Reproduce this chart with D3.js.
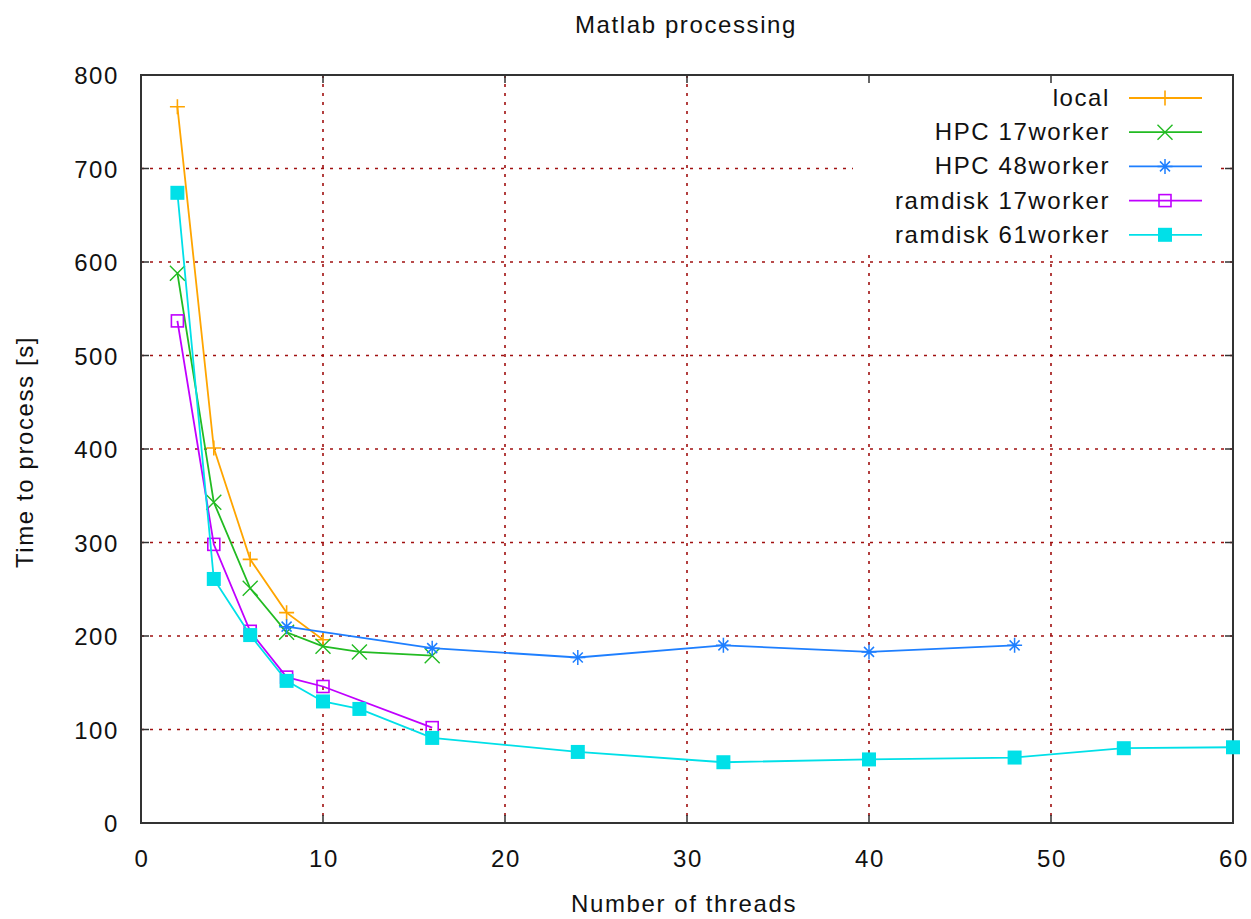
<!DOCTYPE html>
<html>
<head>
<meta charset="utf-8">
<script src="https://cdn.jsdelivr.net/npm/d3@7"></script>
<style>
  html, body { margin: 0; padding: 0; background: #fff; }
  svg text { font-family: "Liberation Sans", Arial, sans-serif; fill: #111; font-size: 24px; letter-spacing: 1.6px; }
</style>
</head>
<body>
<svg id="chart" width="1251" height="919"></svg>
<script>
// data (threads -> seconds)
const localX = [2, 4, 6, 8, 10];
const localY = [766, 401, 282, 225, 196];
const hpc17X = [2, 4, 6, 8, 10, 12, 16];
const hpc17Y = [588, 343, 251, 204, 189, 183, 179];
const hpc48X = [8, 16, 24, 32, 40, 48];
const hpc48Y = [210, 187, 177, 190, 183, 190];
const ram17X = [2, 4, 6, 8, 10, 16];
const ram17Y = [537, 298, 205, 156, 146, 102];
const ram61X = [2, 4, 6, 8, 10, 12, 16, 24, 32, 40, 48, 54, 60];
const ram61Y = [674, 261, 201, 152, 130, 122, 91, 76, 65, 68, 70, 80, 81];

const xTicks = [0, 10, 20, 30, 40, 50, 60];
const yTicks = [0, 100, 200, 300, 400, 500, 600, 700, 800];

const series = [
  { name: "local", xs: localX, ys: localY, color: "#ffa500", mark: "plus" },
  { name: "HPC 17worker", xs: hpc17X, ys: hpc17Y, color: "#22bb22", mark: "cross" },
  { name: "HPC 48worker", xs: hpc48X, ys: hpc48Y, color: "#1e7fff", mark: "star" },
  { name: "ramdisk 17worker", xs: ram17X, ys: ram17Y, color: "#c000ff", mark: "box" },
  { name: "ramdisk 61worker", xs: ram61X, ys: ram61Y, color: "#00e0e8", mark: "fbox" },
];

const L = 141, R = 1233, T = 75, B = 823;
const svg = d3.select("#chart");
const x = d3.scaleLinear().domain([0, 60]).range([L, R]);
const y = d3.scaleLinear().domain([0, 800]).range([B, T]);

// grid
const grid = svg.append("g").attr("stroke", "#a01010").attr("stroke-width", 1.6)
  .attr("stroke-dasharray", "3,6");
grid.selectAll("line.gy").data(yTicks.slice(1, -1)).join("line")
  .attr("x1", L).attr("x2", R).attr("y1", d => y(d)).attr("y2", d => y(d));
grid.selectAll("line.gx").data(xTicks.slice(1, -1)).join("line")
  .attr("y1", T).attr("y2", B).attr("x1", d => x(d)).attr("x2", d => x(d));

// legend background hides grid
svg.append("rect").attr("x", 853).attr("y", T + 1).attr("width", 365).attr("height", 176).attr("fill", "#fff");

// axes (inward ticks, mirrored)
const ax = svg.append("g").attr("stroke", "#333").attr("stroke-width", 1.5);
xTicks.forEach(t => {
  ax.append("line").attr("x1", x(t)).attr("x2", x(t)).attr("y1", B).attr("y2", B - 8);
  ax.append("line").attr("x1", x(t)).attr("x2", x(t)).attr("y1", T).attr("y2", T + 8);
});
yTicks.forEach(t => {
  ax.append("line").attr("x1", L).attr("x2", L + 8).attr("y1", y(t)).attr("y2", y(t));
  ax.append("line").attr("x1", R).attr("x2", R - 8).attr("y1", y(t)).attr("y2", y(t));
});
svg.append("rect").attr("x", L).attr("y", T).attr("width", R - L).attr("height", B - T)
  .attr("fill", "none").attr("stroke", "#333").attr("stroke-width", 2);

svg.append("g").selectAll("text").data(xTicks).join("text")
  .attr("x", d => x(d) + 1).attr("y", 867).attr("text-anchor", "middle").text(d => d);
svg.append("g").selectAll("text").data(yTicks).join("text")
  .attr("x", 119).attr("y", d => y(d) + 9).attr("text-anchor", "end").text(d => d);

svg.append("text").attr("x", 686).attr("y", 33).attr("text-anchor", "middle").text("Matlab processing");
svg.append("text").attr("x", 684).attr("y", 912).attr("text-anchor", "middle").text("Number of threads");
svg.append("text").attr("transform", "translate(33,452) rotate(-90)").attr("text-anchor", "middle")
  .text("Time to process [s]");

function marker(g, kind, color) {
  const s = 7.5;
  if (kind === "plus") {
    g.append("path").attr("d", `M${-s},0H${s}M0,${-s}V${s}`).attr("stroke", color).attr("stroke-width", 1.6).attr("fill", "none");
  } else if (kind === "cross") {
    g.append("path").attr("d", `M${-s},${-s}L${s},${s}M${-s},${s}L${s},${-s}`).attr("stroke", color).attr("stroke-width", 1.4).attr("fill", "none");
  } else if (kind === "star") {
    g.append("path").attr("d", `M${-s},0H${s}M0,${-s}V${s}M${-5},${-5}L5,5M${-5},5L5,${-5}`).attr("stroke", color).attr("stroke-width", 1.5).attr("fill", "none");
  } else if (kind === "box") {
    g.append("rect").attr("x", -6).attr("y", -6).attr("width", 12).attr("height", 12).attr("stroke", color).attr("stroke-width", 1.6).attr("fill", "none");
  } else {
    g.append("rect").attr("x", -7).attr("y", -7).attr("width", 14).attr("height", 14).attr("fill", color);
  }
}

const line = d3.line().x(d => x(d[0])).y(d => y(d[1]));
series.forEach(s => {
  const pts = s.xs.map((v, i) => [v, s.ys[i]]);
  svg.append("path").datum(pts).attr("d", line).attr("fill", "none")
    .attr("stroke", s.color).attr("stroke-width", 1.8);
  pts.forEach(p => {
    marker(svg.append("g").attr("transform", `translate(${x(p[0])},${y(p[1])})`), s.mark, s.color);
  });
});

// legend
series.forEach((s, i) => {
  const ly = 98 + i * 34.2;
  svg.append("text").attr("x", 1110).attr("y", ly + 8).attr("text-anchor", "end").text(s.name);
  svg.append("line").attr("x1", 1129).attr("x2", 1202).attr("y1", ly).attr("y2", ly)
    .attr("stroke", s.color).attr("stroke-width", 1.8);
  marker(svg.append("g").attr("transform", `translate(1165,${ly})`), s.mark, s.color);
});
</script>
</body>
</html>
